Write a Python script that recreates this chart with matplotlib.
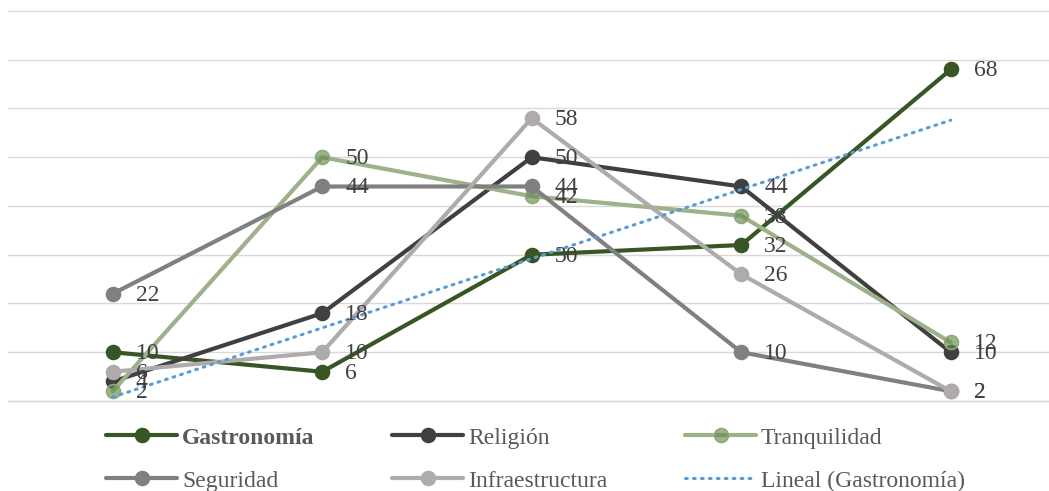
import numpy as np
import matplotlib
matplotlib.use("Agg")
import matplotlib.pyplot as plt

plt.rcParams["font.family"] = ["Liberation Serif", "DejaVu Serif"]

categories = ["1", "2", "3", "4", "5"]
gastronomia = [10, 6, 30, 32, 68]
religion = [4, 18, 50, 44, 10]
tranquilidad = [2, 50, 42, 38, 12]
seguridad = [22, 44, 44, 10, 2]
infraestructura = [6, 10, 58, 26, 2]

series = [
    ("Gastronomía", gastronomia, dict(color="#375623", mfc="#375623", mec="#375623")),
    ("Religión", religion, dict(color="#404040", mfc="#404040", mec="#404040")),
    ("Tranquilidad", tranquilidad, dict(color="#9DB18A", mfc=(0.40, 0.54, 0.30, 0.65), mec="#8FA87A")),
    ("Seguridad", seguridad, dict(color="#808080", mfc="#808080", mec="#808080")),
    ("Infraestructura", infraestructura, dict(color="#AFABAB", mfc="#AFABAB", mec="#AFABAB")),
]

fig = plt.figure(figsize=(10.49, 4.91), dpi=100)
ax = fig.add_axes([0.0076, 0.1833, 0.9924, 0.7943])

x = np.arange(len(categories))
handles = []
for name, vals, st in series:
    h, = ax.plot(x, vals, color=st["color"], lw=3.0, marker="o", ms=10,
                 mfc=st["mfc"], mec=st["mec"], mew=1.2, solid_capstyle="round",
                 zorder=3, label=name, clip_on=False)
    handles.append(h)

# Linear trend of Gastronomía
coef = np.polyfit(x + 1, gastronomia, 1)
trend = np.polyval(coef, x + 1)
th, = ax.plot(x, trend, color="#5B9BD5", lw=2.2, ls=(0, (0.6, 2.0)),
              dash_capstyle="round", zorder=4, label="Lineal (Gastronomía)")
handles.append(th)

# Data labels
for name, vals, st in series:
    for xi, v in zip(x, vals):
        ax.annotate(str(v), (xi, v), xytext=(16.5, -1), textcoords="offset points",
                    ha="left", va="center", fontsize=17, color="#404040", zorder=5)

ax.set_xlim(-0.5, 4.469)
ax.set_ylim(0, 80)
ax.set_yticks(np.arange(0, 81, 10))
ax.yaxis.grid(True, color="#D9D9D9", lw=1.0, clip_on=False)
ax.set_axisbelow(True)
ax.tick_params(left=False, bottom=False, labelleft=False, labelbottom=False)
for s in ax.spines.values():
    s.set_visible(False)
ax.axhline(0, color="#D9D9D9", lw=1.0, zorder=0, clip_on=False)

order = [0, 3, 1, 4, 2, 5]
leg = fig.legend([handles[i] for i in order],
                 [handles[i].get_label() for i in order],
                 ncol=3, loc="lower left", bbox_to_anchor=(0.0835, -0.04),
                 frameon=False, fontsize=17, handlelength=3.0, handletextpad=0.2,
                 columnspacing=3.3, labelspacing=0.92, borderpad=0.3)
for t in leg.get_texts():
    t.set_color("#595959")
leg.get_texts()[0].set_fontweight("bold")

fig.savefig("out.png", dpi=100)
